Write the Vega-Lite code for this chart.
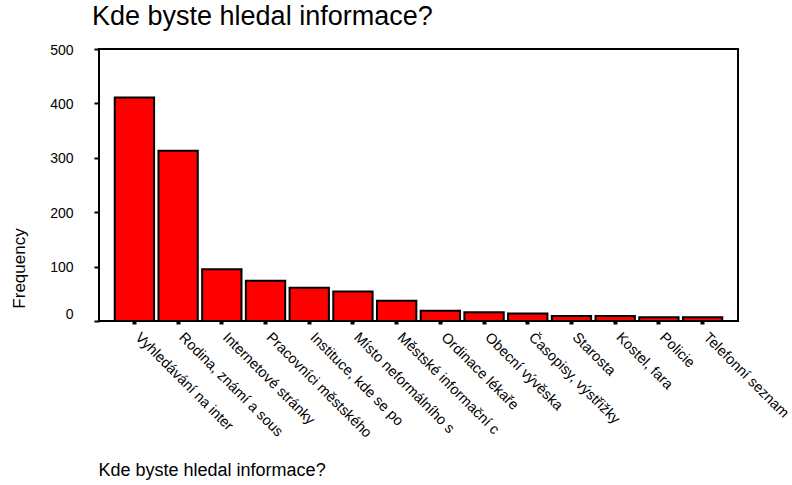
{
  "$schema": "https://vega.github.io/schema/vega-lite/v6.json",
  "autosize": {"type": "none"},
  "padding": {"left": 99, "top": 49, "right": 54, "bottom": 164},
  "width": 639,
  "height": 272,
  "background": "white",
  "title": {
    "text": "Kde byste hledal informace?",
    "anchor": "start",
    "frame": "group",
    "font": "Liberation Sans",
    "fontSize": 27,
    "fontWeight": "normal",
    "color": "black",
    "baseline": "alphabetic",
    "offset": 22,
    "dx": -7,
    "dy": 31
  },
  "config": {
    "view": {"stroke": "black", "strokeWidth": 2},
    "axis": {"labelFont": "Liberation Sans", "titleFont": "Liberation Sans", "labelColor": "black", "titleColor": "black", "titleFontWeight": "normal", "grid": false}
  },
  "data": {
    "values": [
      {"category": "Vyhledávání na inter", "frequency": 411},
      {"category": "Rodina, známí a sous", "frequency": 313},
      {"category": "Internetové stránky", "frequency": 95},
      {"category": "Pracovníci městského", "frequency": 74},
      {"category": "Instituce, kde se po", "frequency": 61},
      {"category": "Místo neformálního s", "frequency": 54},
      {"category": "Městské informační c", "frequency": 37},
      {"category": "Ordinace lékaře", "frequency": 19},
      {"category": "Obecní vývěska", "frequency": 16},
      {"category": "Časopisy, výstřižky", "frequency": 14},
      {"category": "Starosta", "frequency": 9},
      {"category": "Kostel, fara", "frequency": 9},
      {"category": "Policie", "frequency": 7},
      {"category": "Telefonní seznam", "frequency": 7}
    ]
  },
  "mark": {"type": "bar", "fill": "#FF0000", "stroke": "black", "strokeWidth": 2},
  "encoding": {
    "x": {
      "field": "category",
      "type": "nominal",
      "sort": null,
      "scale": {"paddingInner": 0.1, "paddingOuter": 0.36},
      "axis": {
        "title": "Kde byste hledal informace?",
        "titleFontSize": 18,
        "titleAnchor": "start",
        "titleAlign": "left",
        "titleBaseline": "alphabetic",
        "titleX": -1,
        "titleY": 154,
        "labelAngle": 45,
        "labelAlign": "left",
        "labelBaseline": "top",
        "labelFontSize": 14.5,
        "labelPadding": 6,
        "labelOffset": 8,
        "labelLimit": 300,
        "labelOverlap": false,
        "tickSize": 3,
        "tickWidth": 4,
        "tickColor": "black",
        "domain": false
      }
    },
    "y": {
      "field": "frequency",
      "type": "quantitative",
      "scale": {"domain": [0, 500], "nice": false},
      "axis": {
        "title": "Frequency",
        "titleFontSize": 17,
        "titleAngle": -90,
        "titleAlign": "center",
        "titleBaseline": "middle",
        "titleX": -80,
        "titleY": 219,
        "values": [0, 100, 200, 300, 400, 500],
        "labelFontSize": 14,
        "labelPadding": 21,
        "labelBaseline": "middle",
        "labelOffset": {"condition": {"test": "datum.value == 0", "value": -7}, "value": 1},
        "tickSize": 5,
        "tickWidth": 2,
        "tickColor": "black",
        "domain": false
      }
    }
  }
}
